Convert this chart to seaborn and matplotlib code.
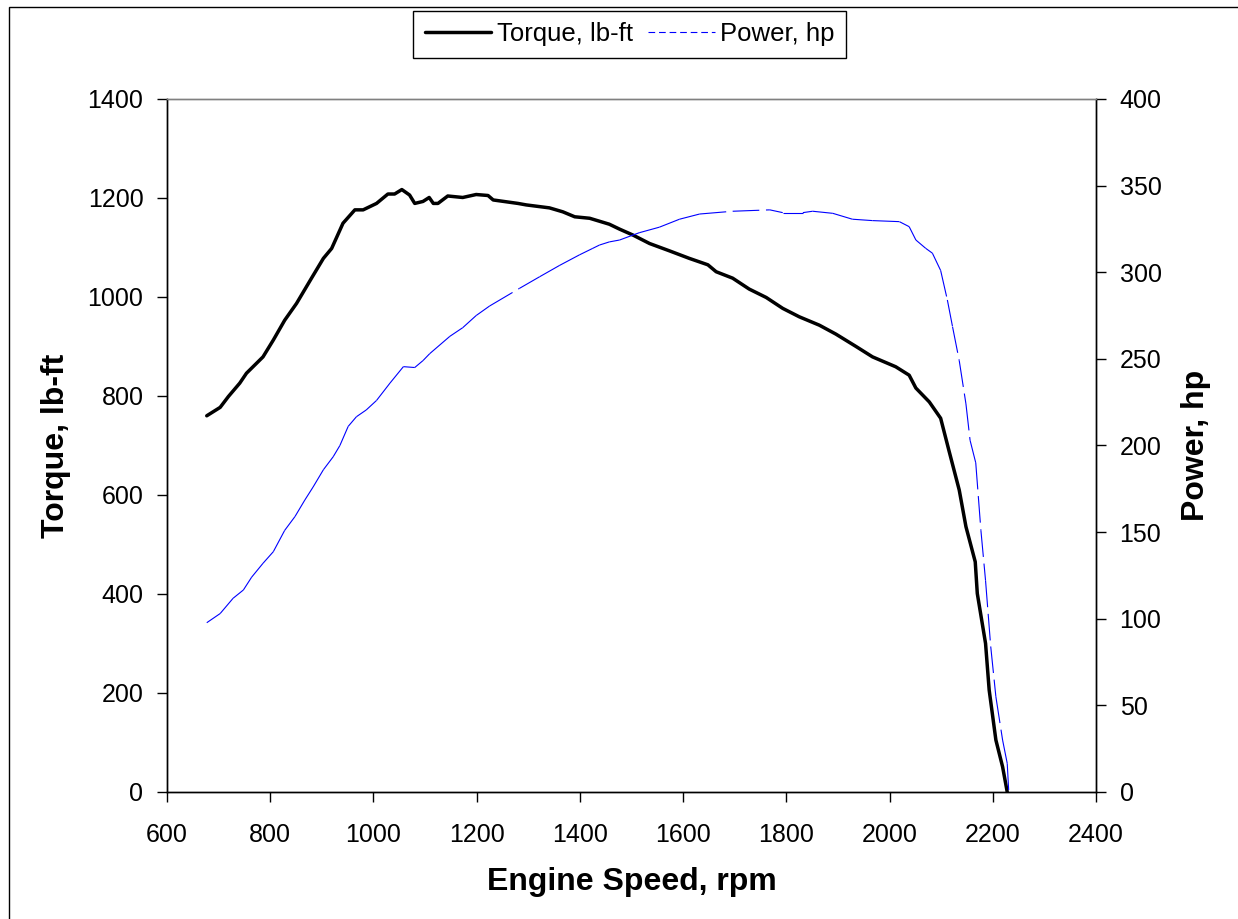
import numpy as np
import pandas as pd
import seaborn as sns
import matplotlib.pyplot as plt
from matplotlib.collections import LineCollection
from matplotlib.lines import Line2D
from matplotlib.patches import Rectangle

# torque curve
torque_rpm = [677, 703, 719, 741, 754, 786, 806, 828, 851, 880, 903, 919, 941, 964,
              980, 1006, 1028, 1041, 1055, 1070, 1080, 1096, 1108, 1116, 1125, 1144,
              1173, 1199, 1222, 1232, 1280, 1296, 1341, 1367, 1390, 1419, 1438, 1457,
              1477, 1503, 1535, 1574, 1612, 1648, 1664, 1696, 1728, 1761, 1793, 1825,
              1864, 1896, 1935, 1967, 2012, 2038, 2051, 2077, 2099, 2115, 2125, 2135,
              2148, 2166, 2170, 2186, 2193, 2206, 2219, 2228]
torque_lbft = [760, 777, 799, 826, 846, 879, 913, 953, 987, 1038, 1078, 1098, 1149, 1176,
               1176, 1189, 1208, 1208, 1217, 1206, 1189, 1193, 1201, 1189, 1189, 1204,
               1201, 1207, 1205, 1196, 1189, 1186, 1180, 1172, 1162, 1159, 1153, 1147,
               1137, 1125, 1108, 1093, 1078, 1065, 1051, 1038, 1016, 999, 977, 960,
               943, 925, 900, 879, 859, 842, 816, 788, 755, 690, 650, 610,
               536, 465, 401, 300, 206, 105, 51, 0]

# power curve
power_rpm = [677, 703, 728, 748, 764, 786, 806, 828, 848, 867, 883, 903, 922, 935,
             951, 967, 986, 1006, 1032, 1058, 1080, 1096, 1109, 1148, 1173, 1199,
             1225, 1283, 1322, 1361, 1399, 1425, 1438, 1457, 1477, 1515, 1554, 1593,
             1632, 1696, 1768, 1793, 1832, 1851, 1890, 1928, 1967, 2019, 2038, 2051,
             2070, 2083, 2099, 2112, 2122, 2135, 2148, 2156, 2167, 2177, 2186, 2196,
             2206, 2219, 2228, 2231]
power_hp = [97.7, 103, 111.8, 116.6, 124, 132, 138.7, 151, 159, 168.5, 176, 186, 193.5, 200,
            211, 216.6, 220.5, 226, 236, 245.5, 245, 249, 253, 263, 268, 275,
            280.5, 290.7, 297.4, 304, 310, 313.8, 315.7, 317.5, 318.6, 322.8, 326, 330.6,
            333.6, 335.2, 336, 334.4, 334.4, 335.2, 334, 330.6, 329.8, 329.2, 326.3, 318.6,
            313.8, 311, 301, 284, 268.6, 249, 224, 203, 190, 151, 122, 84,
            55, 30, 16.5, 0]

sns.set_style("ticks")
plt.rcParams['font.family'] = ['Liberation Sans', 'DejaVu Sans']
plt.rcParams['text.color'] = 'black'
plt.rcParams['axes.labelcolor'] = 'black'

fig = plt.figure(figsize=(12.38, 9.19), dpi=100)
ax = fig.add_axes([0.1349, 0.1382, 0.7504, 0.7541])
ax2 = ax.twinx()

torque_df = pd.DataFrame({"rpm": torque_rpm, "torque": torque_lbft})
sns.lineplot(data=torque_df, x="rpm", y="torque", ax=ax, color="black",
             linewidth=2.5, sort=False, estimator=None, legend=False)

# Excel restarts the dash on every segment, so draw segment by segment
pts = np.column_stack([power_rpm, power_hp])
segs = np.stack([pts[:-1], pts[1:]], axis=1)
lc = LineCollection(segs, colors="#0000ff", linewidths=0.8, linestyles=[(0, (24, 6))])
ax2.add_collection(lc)

ax.set_xlim(600, 2400)
ax.set_ylim(0, 1400)
ax2.set_ylim(0, 400)
ax.set_xticks(range(600, 2401, 200))
ax.set_yticks(range(0, 1401, 200))
ax2.set_yticks(range(0, 401, 50))

ax.tick_params(axis='both', direction='out', length=7, width=1, colors='black',
               labelsize=18, pad=10)
ax.tick_params(axis='x', pad=15)
ax2.tick_params(axis='y', direction='out', length=7, width=1, colors='black',
                labelsize=18, pad=10)

for a in (ax, ax2):
    for s in a.spines.values():
        s.set_color('black')
        s.set_linewidth(1)
    a.spines['top'].set_color('#808080')

ax.set_xlabel("Engine Speed, rpm", fontsize=23, fontweight='bold', labelpad=15)
ax.set_ylabel("Torque, lb-ft", fontsize=23, fontweight='bold', labelpad=12)
ax2.set_ylabel("Power, hp", fontsize=23, fontweight='bold', labelpad=14)

handles = [Line2D([0], [0], color='black', lw=2.5),
           Line2D([0], [0], color='#0000ff', lw=0.8, linestyle=(0, (6, 3.5)))]
leg = fig.legend(handles, ["Torque, lb-ft", "Power, hp"], loc='center',
                 bbox_to_anchor=(0.5085, 0.9625), ncol=2, frameon=True, fancybox=False,
                 edgecolor='black', framealpha=1, fontsize=18.5, handlelength=2.6,
                 handletextpad=0.2, columnspacing=0.6, borderpad=0.45)
leg.get_frame().set_linewidth(1.0)

# chart-area frame, cut off at the right and bottom like the reference
fig.add_artist(Rectangle((9 / 1238, -0.1), 1.2, 1 - 7 / 919 + 0.1,
                         transform=fig.transFigure, fill=False,
                         edgecolor='black', linewidth=1))

fig.savefig("out.png", dpi=100)
